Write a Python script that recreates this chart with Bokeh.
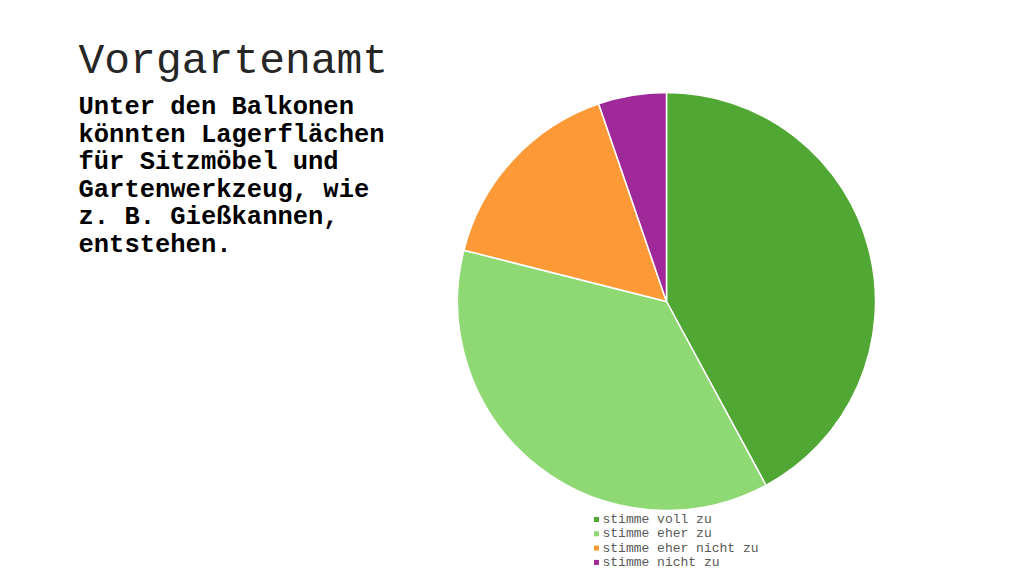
import numpy as np
from bokeh.plotting import figure
from bokeh.models import Range1d, ColumnDataSource
from bokeh.core.properties import value
from bokeh.embed import file_html
from bokeh.resources import INLINE

# ---- data ----
categories = ["stimme voll zu", "stimme eher zu", "stimme eher nicht zu", "stimme nicht zu"]
counts = [8, 7, 3, 1]
colors = ["#51A733", "#8FD974", "#FD9A37", "#A0299A"]
title_text = "Vorgartenamt"
subtitle_lines = ["Unter den Balkonen", "könnten Lagerflächen", "für Sitzmöbel und",
                  "Gartenwerkzeug, wie", "z. B. Gießkannen,", "entstehen."]

W, H = 1016, 574
def X(sx):
    return sx
def Y(sy):
    return H - sy

p = figure(width=W, height=H, output_backend="svg", toolbar_location=None,
           x_range=Range1d(0, W), y_range=Range1d(0, H), min_border=0)
p.axis.visible = False
p.grid.visible = False
p.outline_line_color = None
p.background_fill_color = "white"
p.border_fill_color = "white"

# pie
vals = np.array(counts, dtype=float)
frac = vals / vals.sum()
cum = np.concatenate([[0], np.cumsum(frac)])
start = np.pi / 2 - 2 * np.pi * cum[:-1]
end = np.pi / 2 - 2 * np.pi * cum[1:]
src = ColumnDataSource(dict(start=start, end=end, color=colors, cat=categories))
p.wedge(x=X(666), y=Y(301), radius=209, start_angle="start", end_angle="end",
        direction="clock", fill_color="color", line_color="white", line_width=1.5, source=src)

# title
p.text(x=[X(78)], y=[Y(61)], text=[title_text], text_font=value("Liberation Mono"),
       text_font_size="43px", text_color="#262626", text_baseline="alphabetic")

# subtitle
ys = [Y(107 + 27.6 * i) for i in range(len(subtitle_lines))]
p.text(x=[X(78)] * len(subtitle_lines), y=ys, text=subtitle_lines,
       text_font=value("Liberation Mono"), text_font_style="bold",
       text_font_size="25.5px", text_color="#000000", text_baseline="alphabetic")

# legend
ly = [Y(519 + 14.3 * i) for i in range(len(categories))]
p.scatter(x=[X(596)] * len(categories), y=ly, marker="square", size=5,
          fill_color=colors, line_color=None)
p.text(x=[X(602)] * len(categories), y=ly, text=categories,
       text_font=value("Liberation Mono"), text_font_size="13px",
       text_color="#595959", text_baseline="middle")

open("out.html", "w").write(file_html(p, INLINE))
